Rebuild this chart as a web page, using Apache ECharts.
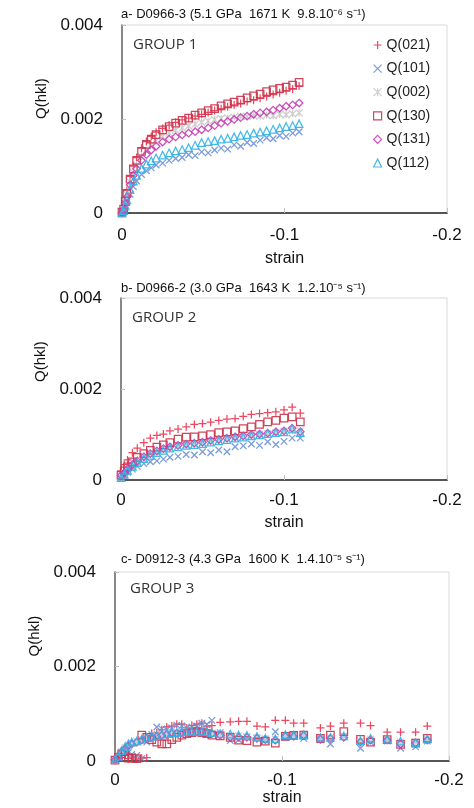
<!DOCTYPE html>
<html>
<head>
<meta charset="utf-8">
<script src="https://cdn.jsdelivr.net/npm/echarts@6/dist/echarts.min.js"></script>
<style>
  html, body { margin: 0; padding: 0; background: #fff; }
  #chart { width: 474px; height: 808px; }
</style>
</head>
<body>
<div id="chart"></div>
<script>
// ---- Panel a: D0966-3 ----
const strainA = [0, -0.001, -0.002, -0.003, -0.005, -0.007, -0.009, -0.012, -0.015, -0.018, -0.021, -0.025, -0.029, -0.033, -0.037, -0.041, -0.045, -0.049, -0.053, -0.057, -0.061, -0.065, -0.069, -0.073, -0.077, -0.081, -0.085, -0.089, -0.093, -0.097, -0.101, -0.105, -0.109];
const q021A = [0.00001, 0.0001, 0.00028, 0.00048, 0.00078, 0.001, 0.00118, 0.00138, 0.00152, 0.00163, 0.00172, 0.0018, 0.00187, 0.00193, 0.00198, 0.00202, 0.00206, 0.0021, 0.00214, 0.00218, 0.00222, 0.00226, 0.0023, 0.00233, 0.00237, 0.0024, 0.00244, 0.00248, 0.00252, 0.00256, 0.0026, 0.00264, 0.0027];
const q101A = [0, 0.00003, 0.00012, 0.00022, 0.0004, 0.00056, 0.00068, 0.00082, 0.0009, 0.00096, 0.00102, 0.00106, 0.00112, 0.00116, 0.00118, 0.00124, 0.00122, 0.0013, 0.00128, 0.00134, 0.00138, 0.00136, 0.00145, 0.00142, 0.0015, 0.00148, 0.00155, 0.0016, 0.00158, 0.00165, 0.00163, 0.0017, 0.00173];
const q002A = [0, 0.00008, 0.00024, 0.0004, 0.00066, 0.00086, 0.00102, 0.0012, 0.00134, 0.00145, 0.00154, 0.00163, 0.0017, 0.00176, 0.00181, 0.00185, 0.00189, 0.00193, 0.00196, 0.00199, 0.00201, 0.00202, 0.00204, 0.00206, 0.00205, 0.00207, 0.00206, 0.00208, 0.00207, 0.0021, 0.00209, 0.00211, 0.00213];
const q130A = [0.00002, 0.00008, 0.00025, 0.00042, 0.00072, 0.00094, 0.00112, 0.00131, 0.00146, 0.00157, 0.00167, 0.00177, 0.00184, 0.00191, 0.00197, 0.00202, 0.00208, 0.00213, 0.00218, 0.00222, 0.00228, 0.00232, 0.00236, 0.0024, 0.00245, 0.00249, 0.00253, 0.00258, 0.00262, 0.00265, 0.00268, 0.00272, 0.00278];
const q131A = [0, 0.00006, 0.0002, 0.00034, 0.0006, 0.0008, 0.00094, 0.00112, 0.00124, 0.00134, 0.00142, 0.00151, 0.00157, 0.00162, 0.00166, 0.0017, 0.00173, 0.00177, 0.00181, 0.00186, 0.00191, 0.00195, 0.00199, 0.00203, 0.00206, 0.0021, 0.00213, 0.00215, 0.00219, 0.00223, 0.00227, 0.0023, 0.00234];
const q112A = [0, 0.00005, 0.00016, 0.00028, 0.0005, 0.00068, 0.0008, 0.00095, 0.00104, 0.00111, 0.00117, 0.00123, 0.00128, 0.00132, 0.00135, 0.00139, 0.00144, 0.0015, 0.00152, 0.00154, 0.00157, 0.00159, 0.00162, 0.00165, 0.00167, 0.0017, 0.00172, 0.00175, 0.00178, 0.00181, 0.00184, 0.00186, 0.0019];

// ---- Panel b: D0966-2 ----
const strainB = [0, -0.002, -0.004, -0.007, -0.010, -0.014, -0.018, -0.022, -0.026, -0.030, -0.035, -0.040, -0.045, -0.050, -0.055, -0.060, -0.065, -0.070, -0.075, -0.080, -0.085, -0.090, -0.095, -0.100, -0.105, -0.110];
const q021B = [0.0002, 0.00034, 0.00044, 0.0006, 0.0007, 0.00082, 0.00092, 0.00098, 0.00101, 0.00108, 0.00112, 0.00117, 0.00122, 0.00124, 0.00127, 0.00131, 0.00134, 0.00135, 0.0014, 0.00144, 0.00146, 0.00148, 0.0015, 0.00154, 0.0016, 0.00147];
const q101B = [0.00003, 0.0001, 0.00017, 0.00024, 0.0003, 0.00036, 0.0004, 0.00042, 0.00046, 0.0005, 0.00052, 0.00056, 0.00055, 0.00062, 0.0006, 0.00066, 0.00062, 0.00073, 0.00075, 0.00079, 0.00076, 0.00084, 0.00078, 0.00085, 0.00092, 0.00092];
const q002B = [0.00006, 0.00014, 0.00022, 0.0003, 0.0004, 0.00048, 0.00055, 0.0006, 0.00066, 0.0007, 0.00074, 0.00077, 0.00079, 0.00081, 0.00084, 0.00087, 0.0009, 0.00092, 0.00095, 0.00097, 0.001, 0.00102, 0.00104, 0.00107, 0.0011, 0.00108];
const q130B = [0.0001, 0.0002, 0.00029, 0.0004, 0.0005, 0.00058, 0.00065, 0.00072, 0.00077, 0.00082, 0.0009, 0.00094, 0.00095, 0.00097, 0.001, 0.00104, 0.00106, 0.00108, 0.00113, 0.00117, 0.00122, 0.00128, 0.00131, 0.00136, 0.00139, 0.00128];
const q131B = [0.0001, 0.00016, 0.00024, 0.00034, 0.00042, 0.00051, 0.00058, 0.00064, 0.00069, 0.00073, 0.00076, 0.00079, 0.00081, 0.00083, 0.00087, 0.00089, 0.00092, 0.00095, 0.00097, 0.001, 0.00101, 0.00103, 0.00106, 0.00108, 0.00114, 0.00106];
const q112B = [0.00005, 0.00013, 0.00021, 0.0003, 0.00038, 0.00047, 0.00054, 0.0006, 0.00065, 0.0007, 0.00073, 0.00076, 0.00078, 0.0008, 0.00083, 0.00086, 0.00089, 0.00092, 0.00094, 0.00097, 0.00099, 0.00102, 0.00104, 0.00106, 0.00112, 0.00104];

// ---- Panel c: D0912-3 ----
const strainC = [0, -0.002, -0.004, -0.006, -0.008, -0.010, -0.013, -0.016, -0.019, -0.022, -0.025, -0.028, -0.031, -0.034, -0.037, -0.040, -0.043, -0.046, -0.049, -0.052, -0.055, -0.058, -0.063, -0.069, -0.074, -0.079, -0.085, -0.090, -0.096, -0.102, -0.107, -0.113, -0.123, -0.129, -0.137, -0.147, -0.153, -0.163, -0.171, -0.180, -0.187];
const q021C = [0.00002, 0.00006, 0.00012, 0.00018, 0.00005, 0.00008, 0.00004, 0.00006, 0.00007, 0.00058, 0.0006, 0.00066, 0.00072, 0.00074, 0.00078, 0.00078, 0.0007, 0.00075, 0.00078, 0.0008, 0.00072, 0.00075, 0.00082, 0.00083, 0.00084, 0.00084, 0.00074, 0.00072, 0.00086, 0.00086, 0.0008, 0.0008, 0.0007, 0.00074, 0.0008, 0.0008, 0.00075, 0.00061, 0.00061, 0.00061, 0.00074];
const q101C = [0.00002, 0.0001, 0.00016, 0.0002, 0.00018, 0.00014, 0.00012, 0.00005, 0.0004, 0.00056, 0.00072, 0.00068, 0.00066, 0.0007, 0.00076, 0.00074, 0.0007, 0.00072, 0.00074, 0.0008, 0.00078, 0.00086, 0.0006, 0.00043, 0.00045, 0.0005, 0.00048, 0.00044, 0.00062, 0.0005, 0.00056, 0.00048, 0.00045, 0.00036, 0.00052, 0.00027, 0.0004, 0.00042, 0.00027, 0.0003, 0.00042];
const q002C = [0.00003, 0.0001, 0.0002, 0.00028, 0.00034, 0.00038, 0.00042, 0.00045, 0.00049, 0.00051, 0.00054, 0.00056, 0.00058, 0.0006, 0.00061, 0.00061, 0.00062, 0.00062, 0.00063, 0.00062, 0.00061, 0.00059, 0.00056, 0.00054, 0.00053, 0.00052, 0.0005, 0.00047, 0.00046, 0.00054, 0.00053, 0.00055, 0.00049, 0.0005, 0.00052, 0.00042, 0.00046, 0.00045, 0.0004, 0.0004, 0.00046];
const q130C = [0.00002, 0.00008, 0.00015, 0.0002, 0.00006, 0.00006, 0.00005, 0.00055, 0.0005, 0.00045, 0.0004, 0.00036, 0.00036, 0.00045, 0.0005, 0.00055, 0.00058, 0.0006, 0.00062, 0.0006, 0.00058, 0.00055, 0.00053, 0.0005, 0.00044, 0.00043, 0.0004, 0.00042, 0.00038, 0.00052, 0.00054, 0.00055, 0.00048, 0.00055, 0.00062, 0.00046, 0.0004, 0.00045, 0.00035, 0.00038, 0.00048];
const q131C = [0.00002, 0.00008, 0.00018, 0.00026, 0.00032, 0.00036, 0.0004, 0.00044, 0.00048, 0.0005, 0.00052, 0.00054, 0.00056, 0.00058, 0.00059, 0.0006, 0.0006, 0.00061, 0.00062, 0.00062, 0.0006, 0.00058, 0.00054, 0.0005, 0.0005, 0.0005, 0.00048, 0.00045, 0.00044, 0.00052, 0.00052, 0.00054, 0.00046, 0.00048, 0.0005, 0.0004, 0.00044, 0.00044, 0.00036, 0.00038, 0.00044];
const q112C = [0.00003, 0.0001, 0.00022, 0.0003, 0.00036, 0.0004, 0.00042, 0.00046, 0.0005, 0.00052, 0.00054, 0.00057, 0.00058, 0.0006, 0.0006, 0.00062, 0.00062, 0.00063, 0.00062, 0.00063, 0.00062, 0.0006, 0.00058, 0.00057, 0.00055, 0.00054, 0.00052, 0.00048, 0.00047, 0.00056, 0.00055, 0.00056, 0.0005, 0.0005, 0.00053, 0.00043, 0.00048, 0.00046, 0.00042, 0.00039, 0.00047];

const seriesNames = ['Q(021)', 'Q(101)', 'Q(002)', 'Q(130)', 'Q(131)', 'Q(112)'];
const panelTitles = [
  'a- D0966-3 (5.1 GPa  1671 K  9.8.10\u207B\u2076 s\u207B\u00B9)',
  'b- D0966-2 (3.0 GPa  1643 K  1.2.10\u207B\u2075 s\u207B\u00B9)',
  'c- D0912-3 (4.3 GPa  1600 K  1.4.10\u207B\u2075 s\u207B\u00B9)'
];
const groupLabels = ['GROUP 1', 'GROUP 2', 'GROUP 3'];
const yTicks = [0, 0.002, 0.004];
const xTicks = [0, -0.1, -0.2];

// ---- drawing ----
const FONT = '"Liberation Sans", Arial, sans-serif';
const PLUS = 'path://M5,0 L5,10 M0,5 L10,5';
const CROSS = 'path://M0,0 L10,10 M10,0 L0,10';
const STAR = 'path://M0,0 L10,10 M10,0 L0,10 M5,0 L5,10';

const markers = [
  { symbol: PLUS, color: '#ec3350', size: 8 },
  { symbol: CROSS, color: '#6b8fd6', size: 6.5 },
  { symbol: STAR, color: '#c9c9c9', size: 7 },
  { symbol: 'rect', color: '#c8344c', size: 7.5 },
  { symbol: 'diamond', color: '#c83cb4', size: 7.5 },
  { symbol: 'triangle', color: '#2fb2e6', size: 7.5 }
];

const panels = [
  { strain: strainA, values: [q021A, q101A, q002A, q130A, q131A, q112A] },
  { strain: strainB, values: [q021B, q101B, q002B, q130B, q131B, q112B] },
  { strain: strainC, values: [q021C, q101C, q002C, q130C, q131C, q112C] }
];

const grids = [
  { left: 122, top: 25, width: 325, height: 188 },
  { left: 121, top: 298, width: 326, height: 182 },
  { left: 115, top: 572, width: 334, height: 189 }
];
const titleTops = [8, 282, 553];
const titleLefts = [121, 121, 121];
const groupTops = [37, 310, 581];
const groupLefts = [133, 132, 130];
const strainNameGap = [38, 35, 27];
const xLabelMargin = [14, 12, 11];
const yNameShift = [0, 7, 10];

function fmtX(v) { return Math.abs(v) < 1e-9 ? '0' : String(+v.toFixed(1)); }
function fmtY(v) { return Math.abs(v) < 1e-9 ? '0' : v.toFixed(3); }

const option = {
  backgroundColor: '#fff',
  animation: false,
  title: panelTitles.map((t, i) => ({
    text: t, left: titleLefts[i], top: titleTops[i], padding: 0,
    textStyle: { fontSize: 13, fontWeight: 'normal', fontFamily: FONT, color: '#111' }
  })),
  legend: {
    data: seriesNames,
    orient: 'vertical',
    left: 368, top: 33,
    itemWidth: 8, itemHeight: 8, itemGap: 9.6,
    selectedMode: false,
    itemStyle: { borderWidth: 1.2 },
    textStyle: { fontSize: 14, lineHeight: 14, fontFamily: FONT, color: '#222' }
  },
  grid: grids.map(g => Object.assign({ show: true, borderColor: '#d9d9d9', borderWidth: 1 }, g)),
  xAxis: grids.map((g, i) => ({
    gridIndex: i, type: 'value', min: -0.2, max: 0, interval: 0.1, inverse: true,
    axisLine: { lineStyle: { color: '#555', width: 2 } },
    axisTick: { inside: true, length: 5, lineStyle: { color: '#c0c0c0' } },
    splitLine: { show: false },
    axisLabel: { formatter: fmtX, fontSize: 17, fontFamily: FONT, color: '#111', margin: xLabelMargin[i] },
    name: 'strain', nameLocation: 'middle', nameGap: strainNameGap[i],
    nameTextStyle: { fontSize: 16, fontFamily: FONT, color: '#111' }
  })),
  yAxis: grids.map((g, i) => ({
    gridIndex: i, type: 'value', min: 0, max: 0.004, interval: 0.002,
    axisLine: { show: true, lineStyle: { color: '#666', width: 1.5 } },
    axisTick: { show: true, inside: true, length: 4, lineStyle: { color: '#c0c0c0' } },
    splitLine: { show: false },
    axisLabel: { formatter: fmtY, fontSize: 17, fontFamily: FONT, color: '#111', margin: 19 },
    name: 'Q(hkl)', nameLocation: 'middle', nameGap: 38,
    nameTextStyle: { fontSize: 15, fontFamily: FONT, color: '#111', align: 'left', padding: [0, 0, 0, yNameShift[i]] }
  })),
  graphic: groupLabels.map((t, i) => ({
    type: 'text', left: groupLefts[i], top: groupTops[i],
    style: { text: t, font: '15px "Open Sans", sans-serif', fill: '#333' }
  })),
  series: []
};

panels.forEach((p, pi) => {
  p.values.forEach((vals, si) => {
    const m = markers[si];
    option.series.push({
      type: 'scatter',
      name: seriesNames[si],
      xAxisIndex: pi, yAxisIndex: pi,
      symbol: m.symbol, symbolSize: m.size,
      itemStyle: { color: 'transparent', borderColor: m.color, borderWidth: 1.25, opacity: 0.9 },
      emphasis: { disabled: true },
      data: p.strain.map((s, k) => [s, vals[k]])
    });
  });
});

const chart = echarts.init(document.getElementById('chart'), null, { renderer: 'canvas' });
chart.setOption(option);
</script>
</body>
</html>
